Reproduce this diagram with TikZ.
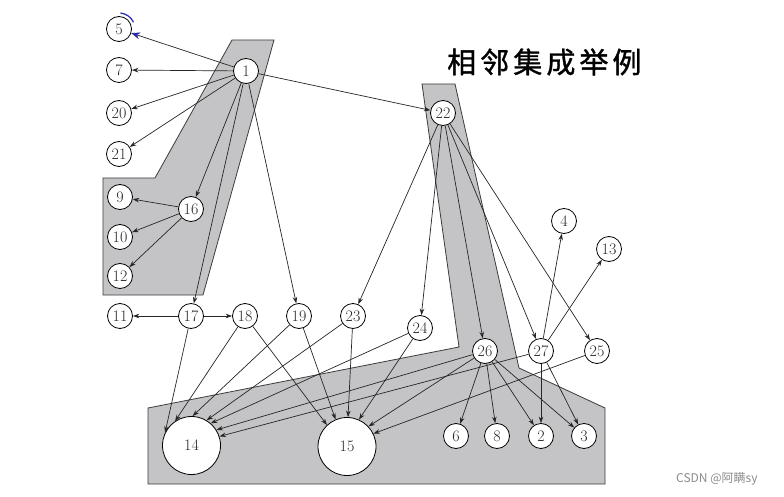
\documentclass[tikz,border=0pt]{standalone}
\usepackage{fontspec}
\newfontfamily\cjk{Noto Sans CJK SC}
\newfontfamily\cjktitle[LetterSpace=14,FakeBold=1.2]{Noto Sans CJK SC}
\usetikzlibrary{arrows.meta}
\definecolor{regfill}{RGB}{196,196,198}
\definecolor{regdraw}{RGB}{60,60,60}
\definecolor{numcol}{RGB}{40,40,40}
\definecolor{bluemark}{RGB}{40,40,170}
\begin{document}
\begin{tikzpicture}[x=1pt,y=-1pt,
  nd/.style={circle,draw=black,fill=white,line width=0.8pt,minimum size=25pt,inner sep=0pt,text=numcol,font=\fontsize{16}{16}\selectfont},
  big/.style={nd,minimum size=58pt},
  ar/.style={draw=black!85,line width=0.7pt,-{Stealth[length=6.5pt,width=4.5pt]}},
  bluetip/.style={draw=black!85,line width=0.7pt,-{Stealth[length=9pt,width=7pt,color=bluemark]}},
  region/.style={fill=regfill,draw=regdraw,line width=0.8pt}]
\useasboundingbox[fill=white] (0,0) rectangle (784,497);
% gray regions
\draw[region] (232,40) -- (274,40) -- (203,295) -- (103,295) -- (103,178) -- (155,178) -- cycle;
\draw[region] (422,84) -- (455,84) -- (519,368) -- (605,408) -- (605,484) -- (148,484) -- (148,408) -- (459,347) -- cycle;
% nodes
\node[nd] (n5)  at (119,29) {5};
\node[nd] (n7)  at (119,70) {7};
\node[nd] (n20) at (119,113) {20};
\node[nd] (n21) at (119,154) {21};
\node[nd] (n1)  at (246,71) {1};
\node[nd] (n9)  at (120,197) {9};
\node[nd] (n16) at (191,209) {16};
\node[nd] (n10) at (120,237) {10};
\node[nd] (n12) at (120,276) {12};
\node[nd] (n11) at (120,316) {11};
\node[nd] (n17) at (191,316) {17};
\node[nd] (n18) at (245,316) {18};
\node[nd] (n19) at (299,316) {19};
\node[nd] (n23) at (353,316) {23};
\node[nd] (n24) at (420,328) {24};
\node[nd] (n22) at (443,113) {22};
\node[nd] (n4)  at (564,221) {4};
\node[nd] (n13) at (609,249) {13};
\node[nd] (n26) at (485,351) {26};
\node[nd] (n27) at (541,351) {27};
\node[nd] (n25) at (597,351) {25};
\node[nd] (n6)  at (456,436) {6};
\node[nd] (n8)  at (497,436) {8};
\node[nd] (n2)  at (541,436) {2};
\node[nd] (n3)  at (584,436) {3};
\node[big] (n14) at (191.5,445.5) {14};
\node[big] (n15) at (347,446.5) {15};
% title and watermark
\node[anchor=west,inner sep=0pt,font=\cjktitle\fontsize{29}{30}\selectfont] (title) at (447,62) {相邻集成举例};
\node[anchor=west,inner sep=0pt,text=black!45,font=\cjk\fontsize{12}{13}\selectfont] (wm) at (676,479) {CSDN @阿瞒sy};
% edges from 1
\draw[bluetip] (n1) -- (n5);
\draw[ar] (n1) -- (n7);
\draw[ar] (n1) -- (n20);
\draw[ar] (n1) -- (n21);
\draw[ar] (n1) -- (n16);
\draw[ar] (n1) -- (n17);
\draw[ar] (n1) -- (n19);
\draw[ar] (n1) -- (n22);
\draw[bluemark,line width=1.2pt] (n5.center) ++(-85:16) arc[start angle=-85,end angle=-25,radius=16];
% 16
\draw[ar] (n16) -- (n9);
\draw[ar] (n16) -- (n10);
\draw[ar] (n16) -- (n12);
% 17
\draw[ar] (n17) -- (n11);
\draw[ar] (n17) -- (n18);
% into 14
\draw[ar] (n17) -- (n14.154);
\draw[ar] (n18) -- (n14.124);
\draw[ar] (n19) -- (n14.88);
\draw[ar] (n23) -- (n14.59);
\draw[ar] (n24) -- (n14.49);
\draw[ar] (n26) -- (n14.32);
\draw[ar] (n27) -- (n14.18);
% into 15
\draw[ar] (n18) -- (n15.133);
\draw[ar] (n19) -- (n15.113);
\draw[ar] (n23) -- (n15.88);
\draw[ar] (n24) -- (n15.66);
\draw[ar] (n26) -- (n15.43);
\draw[ar] (n25) -- (n15.26);
% 22
\draw[ar] (n22) -- (n23);
\draw[ar] (n22) -- (n24);
\draw[ar] (n22) -- (n26);
\draw[ar] (n22) -- (n27);
\draw[ar] (n22) -- (n25);
% 27
\draw[ar] (n27) -- (n4);
\draw[ar] (n27) -- (n13);
\draw[ar] (n27) -- (n2);
\draw[ar] (n27) -- (n3);
% 26
\draw[ar] (n26) -- (n6);
\draw[ar] (n26) -- (n8);
\draw[ar] (n26) -- (n2);
\draw[ar] (n26) -- (n3);
\end{tikzpicture}
\end{document}
